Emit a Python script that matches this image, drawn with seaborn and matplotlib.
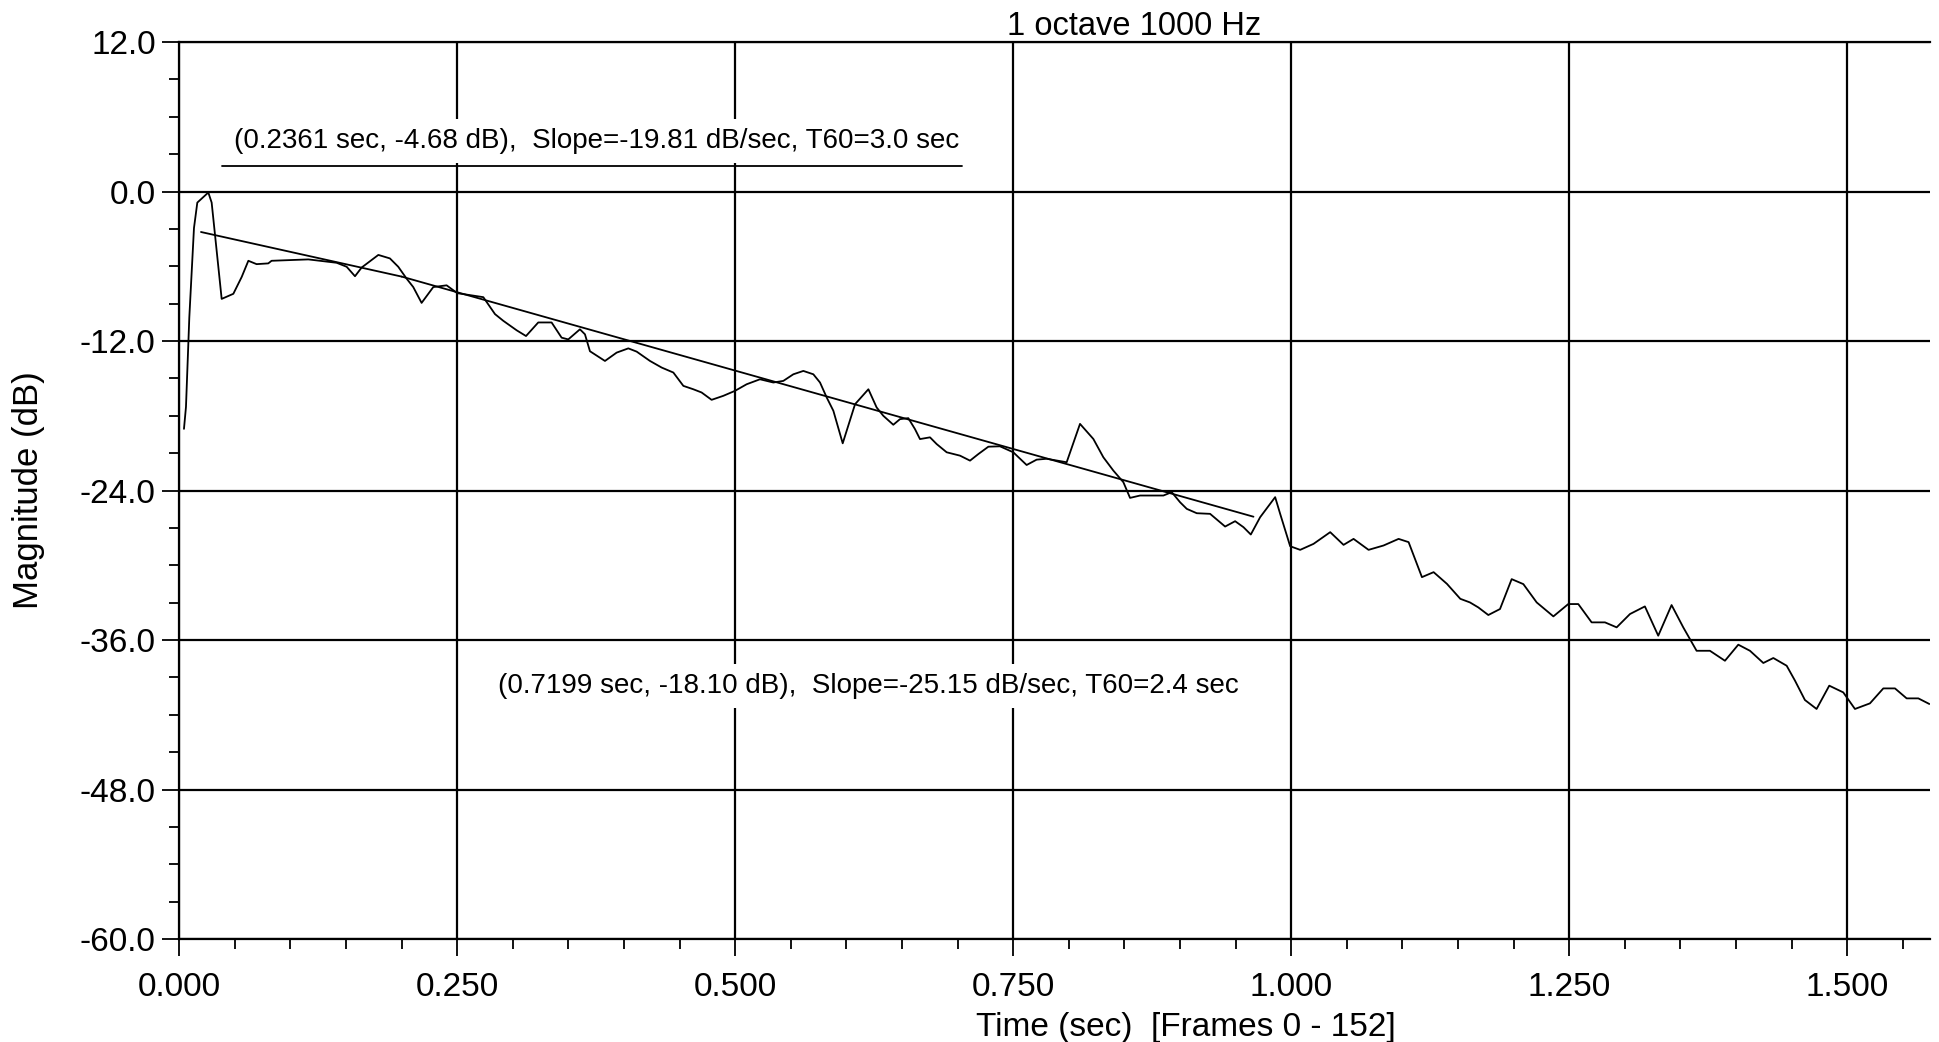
import numpy as np
import pandas as pd
import matplotlib
matplotlib.use("Agg")
import matplotlib.pyplot as plt
from matplotlib.ticker import MultipleLocator, FormatStrFormatter
import seaborn as sns

# ---------------- data ----------------
time_s = [
    0.0042, 0.0060, 0.0090, 0.0132, 0.0162, 0.0261, 0.0291, 0.0381, 0.0486, 0.0561,
    0.0621, 0.0695, 0.0800, 0.0830, 0.1160, 0.1415, 0.1505, 0.1580, 0.1640, 0.1790,
    0.1894, 0.1969, 0.2044, 0.2104, 0.2179, 0.2284, 0.2404, 0.2500, 0.2734, 0.2839,
    0.2914, 0.3034, 0.3118, 0.3228, 0.3348, 0.3438, 0.3498, 0.3603, 0.3648, 0.3693,
    0.3828, 0.3933, 0.4038, 0.4113, 0.4233, 0.4338, 0.4443, 0.4533, 0.4622, 0.4697,
    0.4787, 0.4892, 0.4997, 0.5102, 0.5222, 0.5342, 0.5432, 0.5522, 0.5612, 0.5702,
    0.5762, 0.5822, 0.5882, 0.5966, 0.6077, 0.6197, 0.6271, 0.6331, 0.6421, 0.6481,
    0.6556, 0.6616, 0.6661, 0.6751, 0.6811, 0.6901, 0.7021, 0.7111, 0.7186, 0.7276,
    0.7380, 0.7500, 0.7620, 0.7710, 0.7800, 0.7890, 0.7980, 0.8100, 0.8220, 0.8310,
    0.8400, 0.8490, 0.8550, 0.8640, 0.8850, 0.8925, 0.9000, 0.9060, 0.9150, 0.9270,
    0.9405, 0.9495, 0.9570, 0.9636, 0.9720, 0.9855, 0.9900, 0.9990, 1.0080, 1.0200,
    1.0350, 1.0470, 1.0560, 1.0695, 1.0830, 1.0965, 1.1055, 1.1175, 1.1280, 1.1400,
    1.1520, 1.1607, 1.1682, 1.1772, 1.1877, 1.1982, 1.2087, 1.2207, 1.2357, 1.2491,
    1.2581, 1.2701, 1.2821, 1.2926, 1.3046, 1.3180, 1.3300, 1.3420, 1.3525, 1.3585,
    1.3645, 1.3765, 1.3900, 1.4020, 1.4125, 1.4245, 1.4335, 1.4455, 1.4530, 1.4619,
    1.4724, 1.4838, 1.4964, 1.5069, 1.5204, 1.5324, 1.5429, 1.5534, 1.5639, 1.5738,
]
magnitude_db = [
    -19.05, -17.29, -10.11, -2.93, -0.89, -0.08, -0.89, -8.62, -8.21, -6.86,
    -5.56, -5.83, -5.77, -5.56, -5.45, -5.72, -6.04, -6.80, -6.10, -5.09,
    -5.37, -6.04, -6.99, -7.67, -8.94, -7.67, -7.53, -8.16, -8.48, -9.84,
    -10.38, -11.14, -11.60, -10.51, -10.51, -11.73, -11.87, -11.06, -11.46, -12.82,
    -13.60, -12.93, -12.59, -12.85, -13.60, -14.13, -14.53, -15.60, -15.87, -16.13,
    -16.72, -16.40, -16.00, -15.47, -15.07, -15.33, -15.20, -14.67, -14.40, -14.67,
    -15.33, -16.53, -17.60, -20.21, -17.07, -15.87, -17.33, -18.00, -18.72, -18.27,
    -18.19, -19.07, -19.87, -19.73, -20.27, -20.93, -21.20, -21.60, -21.07, -20.48,
    -20.45, -20.93, -21.95, -21.52, -21.45, -21.59, -21.73, -18.65, -19.86, -21.33,
    -22.40, -23.33, -24.59, -24.40, -24.40, -24.13, -24.94, -25.47, -25.82, -25.87,
    -26.89, -26.46, -26.94, -27.53, -26.14, -24.53, -25.87, -28.47, -28.76, -28.28,
    -27.34, -28.36, -27.88, -28.76, -28.41, -27.88, -28.14, -30.95, -30.55, -31.49,
    -32.69, -32.98, -33.38, -33.99, -33.51, -31.11, -31.51, -32.98, -34.10, -33.11,
    -33.11, -34.58, -34.58, -34.98, -33.91, -33.30, -35.65, -33.19, -34.98, -35.92,
    -36.86, -36.86, -37.66, -36.37, -36.86, -37.84, -37.44, -38.06, -39.26, -40.81,
    -41.53, -39.66, -40.20, -41.53, -41.08, -39.88, -39.88, -40.68, -40.68, -41.13,
]

# regression lines (end points)
fit1_time = [0.0195, 0.2000]
fit1_db = [-3.25, -6.83]
fit2_time = [0.2000, 0.9660]
fit2_db = [-6.83, -26.10]

# underline below the first annotation
underline_time = [0.0384, 0.7043]
underline_db = [2.05, 2.05]

label1_text = "(0.2361 sec, -4.68 dB),  Slope=-19.81 dB/sec, T60=3.0 sec"
label1_pos = (0.0492, 3.49)
label2_text = "(0.7199 sec, -18.10 dB),  Slope=-25.15 dB/sec, T60=2.4 sec"
label2_pos = (0.2866, -40.25)

title_text = "1 octave 1000 Hz"
xlabel_text = "Time (sec)  [Frames 0 - 152]"
ylabel_text = "Magnitude (dB)"

x_limits = (0.0, 1.5744)
y_limits = (-60.0, 12.0)
x_major, x_minor = 0.25, 0.05
y_major, y_minor = 12.0, 3.0

# ---------------- style ----------------
sns.set_style("white")
plt.rcParams["font.family"] = ["Liberation Sans", "DejaVu Sans"]

fig = plt.figure(figsize=(19.39, 10.42), dpi=100)
ax = fig.add_axes([0.09247, 0.09875, 0.99536 - 0.09247, 0.95971 - 0.09875])

curve_df = pd.DataFrame({"time": time_s, "db": magnitude_db})
sns.lineplot(data=curve_df, x="time", y="db", ax=ax, color="black",
             linewidth=1.3, estimator=None, sort=False, zorder=2)
sns.lineplot(x=fit1_time, y=fit1_db, ax=ax, color="black", linewidth=1.3,
             estimator=None, sort=False, zorder=2)
sns.lineplot(x=fit2_time, y=fit2_db, ax=ax, color="black", linewidth=1.3,
             estimator=None, sort=False, zorder=2)
sns.lineplot(x=underline_time, y=underline_db, ax=ax, color="black", linewidth=1.3,
             estimator=None, sort=False, zorder=4)

ax.set_xlim(*x_limits)
ax.set_ylim(*y_limits)

ax.xaxis.set_major_locator(MultipleLocator(x_major))
ax.xaxis.set_minor_locator(MultipleLocator(x_minor))
ax.yaxis.set_major_locator(MultipleLocator(y_major))
ax.yaxis.set_minor_locator(MultipleLocator(y_minor))
ax.xaxis.set_major_formatter(FormatStrFormatter("%.3f"))
ax.yaxis.set_major_formatter(FormatStrFormatter("%.1f"))

ax.set_axisbelow(True)
ax.grid(True, which="major", color="black", linewidth=1.6)

for side in ["left", "bottom", "top"]:
    ax.spines[side].set_visible(True)
    ax.spines[side].set_color("black")
    ax.spines[side].set_linewidth(1.6)
ax.spines["right"].set_visible(False)

ax.tick_params(axis="both", which="major", direction="out", length=12, width=1.3,
               color="black", labelsize=24, labelcolor="black",
               bottom=True, left=True, top=False, right=False)
ax.tick_params(axis="y", which="major", pad=5)
ax.tick_params(axis="x", which="major", pad=12)
ax.tick_params(axis="both", which="minor", direction="out", length=7, width=1.3,
               color="black", bottom=True, left=True, top=False, right=False)

ax.set_title(title_text, fontsize=23.5, x=0.5453, pad=5, color="black")
ax.set_xlabel(xlabel_text, fontsize=24, color="black")
ax.xaxis.set_label_coords(0.5748, -0.081)
ax.set_ylabel(ylabel_text, fontsize=25, color="black")
ax.yaxis.set_label_coords(-0.0767, 0.5)

box = dict(boxstyle="square,pad=0.33", fc="white", ec="none")
ax.text(label1_pos[0], label1_pos[1], label1_text, fontsize=20, ha="left",
        va="baseline", color="black", bbox=box, zorder=3)
ax.text(label2_pos[0], label2_pos[1], label2_text, fontsize=20, ha="left",
        va="baseline", color="black", bbox=box, zorder=3)

fig.savefig("out.png", dpi=100, facecolor="white")
